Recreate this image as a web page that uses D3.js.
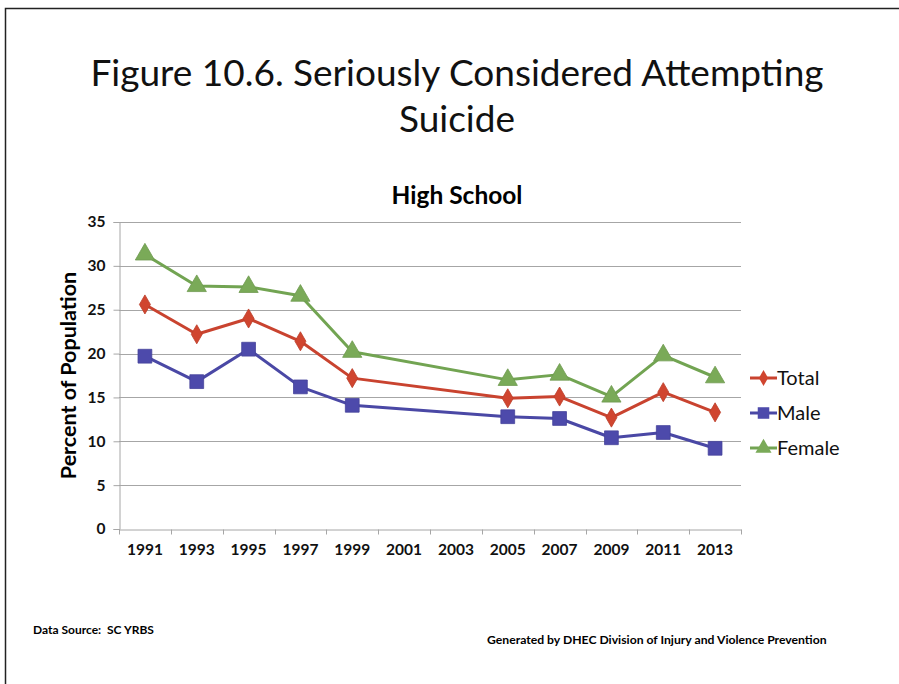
<!DOCTYPE html>
<html>
<head>
<meta charset="utf-8">
<script src="https://cdn.jsdelivr.net/npm/d3@7"></script>
<style>
  body { margin: 0; background: #fff; }
  svg { display: block; font-family: Lato, "Open Sans", sans-serif; }
</style>
</head>
<body>
<svg id="chart"></svg>
<script>
/* données */
const years = ['1991','1993','1995','1997','1999','2001','2003','2005','2007','2009','2011','2013']
const totalValues  = [25.6, 22.2, 24.0, 21.4, 17.2, null, null, 14.9, 15.1, 12.7, 15.6, 13.3]
const maleValues   = [19.7, 16.8, 20.5, 16.2, 14.1, null, null, 12.8, 12.6, 10.4, 11.0, 9.2]
const femaleValues = [31.3, 27.7, 27.6, 26.6, 20.2, null, null, 17.0, 17.6, 15.1, 19.8, 17.3]
const yTicks = [0, 5, 10, 15, 20, 25, 30, 35]
const seriesNames = ['Total', 'Male', 'Female']

const width = 899, height = 684
const plot = {left: 119, right: 741, top: 222, bottom: 529}

const series = [
  {name: seriesNames[0], values: totalValues,  color: '#C9432F', fill: '#D0452F', shape: d3.symbolDiamond,  size: 105},
  {name: seriesNames[1], values: maleValues,   color: '#4A48A5', fill: '#4D4AAB', shape: d3.symbolSquare,   size: 190},
  {name: seriesNames[2], values: femaleValues, color: '#72A452', fill: '#7AAA58', shape: d3.symbolTriangle, size: 160}
]

const svg = d3.select('#chart').attr('width', width).attr('height', height)

/* cadre */
svg.append('path')
   .attr('d', `M5.5,${height} V8.5 H${width}`)
   .attr('fill', 'none')
   .attr('stroke', '#222')
   .attr('stroke-width', 1.5)

/* titres */
const title = svg.append('text')
   .attr('text-anchor', 'middle')
   .style('font-size', '37px')
   .style('fill', '#111')
title.append('tspan').attr('x', 457).attr('y', 86).text('Figure 10.6. Seriously Considered Attempting')
title.append('tspan').attr('x', 457).attr('y', 132).text('Suicide')

svg.append('text')
   .attr('x', 457).attr('y', 204)
   .attr('text-anchor', 'middle')
   .style('font-size', '24.5px').style('font-weight', 'bold')
   .text('High School')

/* échelles */
const xScale = d3.scaleBand().domain(years).range([plot.left, plot.right]).padding(0)
const yScale = d3.scaleLinear().domain([0, 35]).range([plot.bottom, plot.top])

/* grille */
svg.append('g')
   .selectAll('line')
   .data(yTicks.filter(d => d > 0))
   .join('line')
   .attr('x1', plot.left).attr('x2', plot.right)
   .attr('y1', d => Math.round(yScale(d)) + 0.5)
   .attr('y2', d => Math.round(yScale(d)) + 0.5)
   .attr('stroke', '#A6A6A6')

/* axes */
const yAxis = svg.append('g')
   .attr('transform', `translate(${plot.left + 0.5},0)`)
   .call(d3.axisLeft(yScale).tickValues(yTicks).tickSize(6).tickPadding(8))
yAxis.select('.domain').attr('stroke', '#A6A6A6')
yAxis.selectAll('.tick line').attr('stroke', '#A6A6A6')
yAxis.selectAll('text')
     .style('font-size', '15.5px').style('font-weight', 'bold')
     .style('font-family', 'Lato, sans-serif').attr('fill', '#111')

const xAxis = svg.append('g')
   .attr('transform', `translate(0,${Math.round(plot.bottom) + 0.5})`)
   .call(d3.axisBottom(xScale).tickSize(0).tickPadding(14))
xAxis.select('.domain').attr('stroke', '#A6A6A6')
xAxis.selectAll('text')
     .style('font-size', '15.5px').style('font-weight', 'bold')
     .style('font-family', 'Lato, sans-serif').attr('fill', '#111')
/* petites graduations entre les catégories */
xAxis.selectAll('line.sep')
     .data(years.concat(['end']))
     .join('line')
     .attr('class', 'sep')
     .attr('x1', (d, i) => Math.round(plot.left + i * xScale.bandwidth()) + 0.5)
     .attr('x2', (d, i) => Math.round(plot.left + i * xScale.bandwidth()) + 0.5)
     .attr('y1', 0).attr('y2', 5)
     .attr('stroke', '#A6A6A6')

svg.append('text')
   .attr('transform', `translate(76,${(plot.top + plot.bottom) / 2}) rotate(-90)`)
   .attr('text-anchor', 'middle')
   .style('font-size', '21.5px').style('font-weight', 'bold')
   .text('Percent of Population')

/* séries */
const line = d3.line()
   .x(d => xScale(d.year) + xScale.bandwidth() / 2)
   .y(d => yScale(d.value))

series.forEach(s => {
  const pts = years.map((y, i) => ({year: y, value: s.values[i]})).filter(d => d.value !== null)
  svg.append('path')
     .datum(pts)
     .attr('d', line)
     .attr('fill', 'none')
     .attr('stroke', s.color)
     .attr('stroke-width', 3)
     .attr('stroke-linejoin', 'round')
  svg.append('g')
     .selectAll('path')
     .data(pts)
     .join('path')
     .attr('d', d3.symbol().type(s.shape).size(s.size))
     .attr('transform', d => `translate(${xScale(d.year) + xScale.bandwidth() / 2},${yScale(d.value)})`)
     .attr('fill', s.fill)
     .attr('stroke', d3.color(s.fill).darker(0.3))
     .attr('stroke-width', 0.8)
})

/* légende */
const legend = svg.append('g').attr('transform', 'translate(750,378)')
series.forEach((s, i) => {
  const g = legend.append('g').attr('transform', `translate(0,${i * 35})`)
  g.append('line').attr('x1', 0).attr('x2', 27).attr('stroke', s.color).attr('stroke-width', 3)
  g.append('path')
   .attr('d', d3.symbol().type(s.shape).size(s.size * 0.7))
   .attr('transform', 'translate(13.5,0)')
   .attr('fill', s.fill)
  g.append('text')
   .attr('x', 27).attr('y', 7)
   .style('font-size', '20px')
   .attr('fill', '#111')
   .text(s.name)
})

/* notes */
svg.append('text')
   .attr('x', 33).attr('y', 634)
   .attr('xml:space', 'preserve')
   .style('font-size', '12px').style('font-weight', 'bold')
   .style('white-space', 'pre')
   .text('Data Source:  SC YRBS')
svg.append('text')
   .attr('x', 487).attr('y', 644)
   .style('font-size', '12.2px').style('font-weight', 'bold')
   .text('Generated by DHEC Division of Injury and Violence Prevention')
</script>
</body>
</html>
